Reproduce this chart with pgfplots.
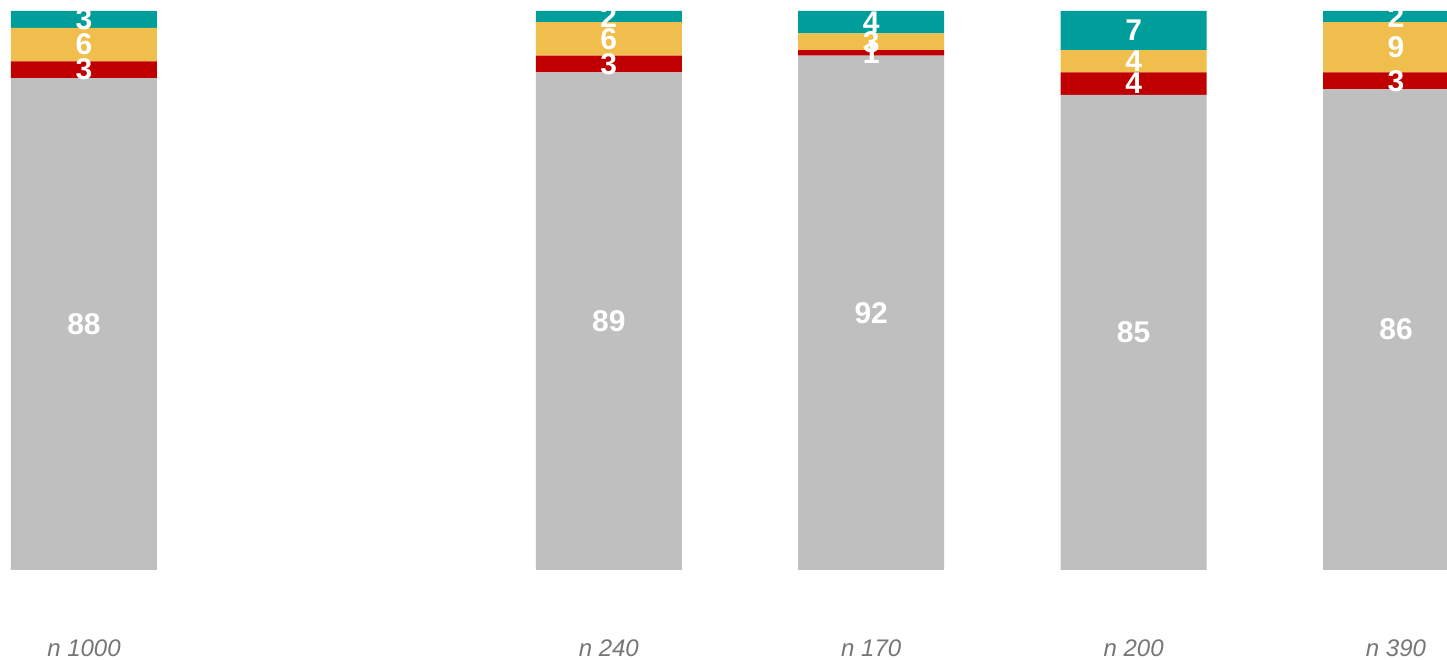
\documentclass[border=0pt]{standalone}
\usepackage{pgfplots}
\pgfplotsset{compat=1.18}
\usepackage{fontspec}
\setmainfont{Liberation Sans}
\definecolor{cgrey}{RGB}{191,191,191}
\definecolor{cred}{RGB}{192,0,0}
\definecolor{cyel}{RGB}{240,190,76}
\definecolor{cteal}{RGB}{0,158,155}
\definecolor{ctick}{RGB}{118,118,118}
\begin{document}
\begin{tikzpicture}
\pgfplotsset{myax/.style={scale only axis, width=1447pt, height=559pt,
  xmin=-0.3201, xmax=5.1944, ymin=0, ymax=100,
  axis line style={draw=none}, major tick length=0pt, ytick=\empty}}
\begin{axis}[myax, ybar stacked, bar width=0.5564,
  xtick={0,2,3,4,5},
  xticklabels={n 1000, n 240, n 170, n 200, n 390},
  xticklabel style={anchor=base, yshift=-87pt, font=\itshape\fontsize{24}{24}\selectfont, text=ctick}]
\addplot[fill=cgrey, draw=none] coordinates {(0,88) (2,89) (3,92) (4,85) (5,86)};
\addplot[fill=cred, draw=none] coordinates {(0,3) (2,3) (3,1) (4,4) (5,3)};
\addplot[fill=cyel, draw=none] coordinates {(0,6) (2,6) (3,3) (4,4) (5,9)};
\addplot[fill=cteal, draw=none] coordinates {(0,3) (2,2) (3,4) (4,7) (5,2)};
\coordinate (bl) at (rel axis cs:0,0);
\coordinate (tr) at (rel axis cs:1,1);
\end{axis}
\begin{axis}[myax, hide axis]
\addplot[draw=none, mark=none, nodes near coords, nodes near coords align=center,
  point meta=explicit symbolic,
  every node near coord/.append style={anchor=center, inner sep=0pt, text=white, font=\bfseries\fontsize{30}{30}\selectfont}]
coordinates {
(0,44) [88] (0,89.5) [3] (0,94) [6] (0,98.5) [3]
(2,44.5) [89] (2,90.5) [3] (2,95) [6] (2,99) [2]
(3,46) [92] (3,92.5) [1] (3,94.5) [3] (3,98) [4]
(4,42.5) [85] (4,87) [4] (4,91) [4] (4,96.5) [7]
(5,43) [86] (5,87.5) [3] (5,93.5) [9] (5,99) [2]
};
\end{axis}
\pgfresetboundingbox
\path ([yshift=-90pt]bl) rectangle ([yshift=11pt]tr);
\end{tikzpicture}
\end{document}
